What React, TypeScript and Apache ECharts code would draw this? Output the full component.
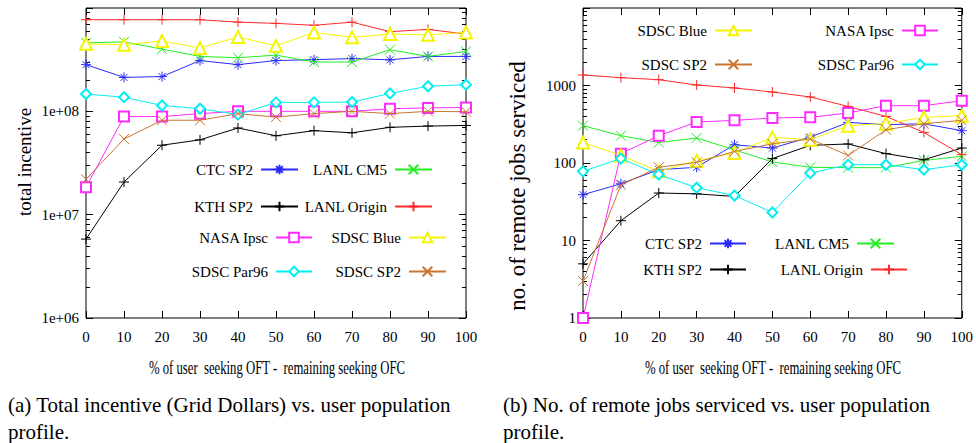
import React, { useEffect, useRef } from 'react';
import * as echarts from 'echarts';

// ---------- data ----------
const xValues = [0, 10, 20, 30, 40, 50, 60, 70, 80, 90, 100];

// (a) total incentive
const ctcSP2Incentive = [2.83e8, 2.13e8, 2.17e8, 3.1e8, 2.83e8, 3.1e8, 3.16e8, 3.24e8, 3.15e8, 3.4e8, 3.4e8];
const lanlCM5Incentive = [4.6e8, 4.7e8, 4.0e8, 3.4e8, 3.3e8, 3.5e8, 3.0e8, 3.0e8, 3.95e8, 3.4e8, 3.8e8];
const kthSP2Incentive = [5.8e6, 2.07e7, 4.7e7, 5.3e7, 6.9e7, 5.8e7, 6.5e7, 6.2e7, 7.0e7, 7.2e7, 7.3e7];
const lanlOriginIncentive = [7.7e8, 7.7e8, 7.7e8, 7.7e8, 7.3e8, 7.1e8, 6.8e8, 7.3e8, 5.9e8, 6.2e8, 5.6e8];
const nasaIpscIncentive = [1.84e7, 8.9e7, 8.9e7, 9.5e7, 1.0e8, 1.0e8, 1.0e8, 1.0e8, 1.06e8, 1.08e8, 1.09e8];
const sdscBlueIncentive = [4.5e8, 4.4e8, 4.8e8, 4.1e8, 5.25e8, 4.3e8, 5.8e8, 5.2e8, 5.6e8, 5.5e8, 5.8e8];
const sdscPar96Incentive = [1.47e8, 1.37e8, 1.14e8, 1.06e8, 0.93e8, 1.22e8, 1.22e8, 1.23e8, 1.49e8, 1.75e8, 1.81e8];
const sdscSP2Incentive = [2.2e7, 5.4e7, 8.2e7, 8.2e7, 9.5e7, 8.8e7, 9.5e7, 1.0e8, 0.95e8, 1.0e8, 0.99e8];

// (b) number of remote jobs serviced
const ctcSP2Jobs = [39, 54, 82, 88, 172, 156, 216, 334, 312, 321, 261];
const lanlCM5Jobs = [303, 225, 184, 210, 148, 103, 88, 87, 87, 108, 122];
const kthSP2Jobs = [5, 18, 41, 40, 37, 114, 169, 176, 132, 110, 156];
const lanlOriginJobs = [1366, 1262, 1188, 1015, 929, 824, 711, 537, 399, 248, 128];
const nasaIpscJobs = [1, 132, 225, 338, 355, 381, 388, 442, 549, 549, 637];
const sdscBlueJobs = [184, 125, 78, 107, 135, 214, 200, 303, 322, 388, 408];
const sdscPar96Jobs = [78, 114, 71, 48, 38, 23, 74, 95, 95, 82, 95];
const sdscSP2Jobs = [3, 52, 88, 102, 141, 177, 204, 125, 269, 321, 355];

const seriesNames = ['CTC SP2', 'LANL CM5', 'KTH SP2', 'LANL Origin', 'NASA Ipsc', 'SDSC Blue', 'SDSC Par96', 'SDSC SP2'];
const incentiveData = [ctcSP2Incentive, lanlCM5Incentive, kthSP2Incentive, lanlOriginIncentive, nasaIpscIncentive, sdscBlueIncentive, sdscPar96Incentive, sdscSP2Incentive];
const jobsData = [ctcSP2Jobs, lanlCM5Jobs, kthSP2Jobs, lanlOriginJobs, nasaIpscJobs, sdscBlueJobs, sdscPar96Jobs, sdscSP2Jobs];

const incentiveMajorTicks = [1e6, 1e7, 1e8, 1e9];
const incentiveTickLabels = [1e6, 1e7, 1e8];
const jobsMajorTicks = [1, 10, 100, 1000, 10000];
const jobsTickLabels = [1, 10, 100, 1000];

const xTitle = '% of user  seeking OFT -  remaining seeking OFC';
const captionA = ['(a) Total incentive (Grid Dollars) vs. user population', 'profile.'];
const captionB = ['(b) No. of remote jobs serviced vs. user population', 'profile.'];

// ---------- styles ----------
const FONT = "'Liberation Serif', 'Times New Roman', serif";
const PLUS = 'path://M0,5L10,5M5,0L5,10';
const CROSS = 'path://M0,0L10,10M10,0L0,10';
const STAR = 'path://M0,5L10,5M5,0L5,10M1.5,1.5L8.5,8.5M8.5,1.5L1.5,8.5';
const seriesStyle: Record<string, { color: string; symbol: string; size: number }> = {
  'CTC SP2': { color: '#2a2aff', symbol: STAR, size: 10 },
  'LANL CM5': { color: '#22ee22', symbol: CROSS, size: 10 },
  'KTH SP2': { color: '#000000', symbol: PLUS, size: 10 },
  'LANL Origin': { color: '#ff2a2a', symbol: PLUS, size: 10 },
  'NASA Ipsc': { color: '#ff2aff', symbol: 'emptyRect', size: 10 },
  'SDSC Blue': { color: '#f5f500', symbol: 'emptyTriangle', size: 12 },
  'SDSC Par96': { color: '#00f0f0', symbol: 'emptyDiamond', size: 10 },
  'SDSC SP2': { color: '#c87533', symbol: CROSS, size: 10 },
};

// legend placement: right edge of the line sample (as css right) and row centre
const legendLayout = [
  { name: 'CTC SP2', right: 677, y: 170, w: 37 },
  { name: 'LANL CM5', right: 543, y: 170, w: 37 },
  { name: 'KTH SP2', right: 677, y: 207, w: 37 },
  { name: 'LANL Origin', right: 543, y: 207, w: 37 },
  { name: 'NASA Ipsc', right: 663, y: 238, w: 36 },
  { name: 'SDSC Blue', right: 529, y: 238, w: 37 },
  { name: 'SDSC Par96', right: 663, y: 272, w: 36 },
  { name: 'SDSC SP2', right: 529, y: 272, w: 37 },
  { name: 'SDSC Blue', right: 223, y: 31, w: 37 },
  { name: 'NASA Ipsc', right: 37, y: 31, w: 36 },
  { name: 'SDSC SP2', right: 223, y: 65, w: 37 },
  { name: 'SDSC Par96', right: 37, y: 65, w: 36 },
  { name: 'CTC SP2', right: 229, y: 244, w: 36 },
  { name: 'LANL CM5', right: 81, y: 244, w: 37 },
  { name: 'KTH SP2', right: 229, y: 270, w: 36 },
  { name: 'LANL Origin', right: 68, y: 270, w: 36 },
];

function minorTicks(loExp: number, hiExp: number): number[] {
  const out: number[] = [];
  for (let e = loExp; e < hiExp; e++) {
    for (let k = 2; k <= 9; k++) out.push(k * Math.pow(10, e));
  }
  return out;
}

const tickLine = { color: '#000', width: 1 };

function xAxisDef(gridIndex: number, position: string, labels: boolean) {
  return {
    type: 'value', gridIndex, position, min: 0, max: 100, interval: 10,
    axisLine: { show: false }, splitLine: { show: false },
    axisTick: { show: true, inside: true, length: 7, lineStyle: tickLine },
    axisLabel: labels
      ? { show: true, margin: 11, color: '#000', fontFamily: FONT, fontSize: 15 }
      : { show: false },
  };
}

function yAxisDef(gridIndex: number, position: string, min: number, max: number, ticks: number[], len: number,
  labelVals?: number[], fmt?: (v: number) => string) {
  return {
    type: 'log', logBase: 10, gridIndex, position, min, max,
    axisLine: { show: false }, splitLine: { show: false },
    axisTick: { show: true, inside: true, length: len, customValues: ticks, lineStyle: tickLine },
    axisLabel: fmt
      ? { show: true, customValues: labelVals, formatter: fmt, margin: 7, color: '#000', fontFamily: FONT, fontSize: 15 }
      : { show: false },
  };
}

const fmtIncentive = (v: number) => {
  const e = Math.round(Math.log10(v));
  if (e > 8) return '';
  return '1e+' + String(e).padStart(2, '0');
};
const fmtJobs = (v: number) => (v > 1000 ? '' : String(Math.round(v)));

export default function App() {
  const ref = useRef<HTMLDivElement>(null);
  useEffect(() => {
    if (!ref.current) return;
    const chart = echarts.init(ref.current, undefined, { renderer: 'svg' });

    const series: any[] = [];
    seriesNames.forEach((name, i) => {
      const st = seriesStyle[name];
      const common = {
        type: 'line', name, symbol: st.symbol, symbolSize: st.size, showAllSymbol: true,
        lineStyle: { color: st.color, width: 1 },
        itemStyle: { color: st.color, borderColor: st.color, borderWidth: 1 },
        emphasis: { disabled: true }, z: 2 + i,
      };
      series.push({ ...common, xAxisIndex: 0, yAxisIndex: 0, data: xValues.map((x, k) => [x, incentiveData[i][k]]) });
      series.push({ ...common, xAxisIndex: 2, yAxisIndex: 4, data: xValues.map((x, k) => [x, jobsData[i][k]]) });
    });

    const legends = legendLayout.map((l) => ({
      data: [l.name], right: l.right, top: l.y - 8, itemWidth: l.w, itemHeight: 12, itemGap: 0,
      align: 'right', padding: 0, selectedMode: false, orient: 'horizontal',
      textStyle: { color: '#000', fontFamily: FONT, fontSize: 15, padding: [0, 3, 0, 0] },
    }));

    const textStyleBase = { fill: '#000', fontFamily: FONT };

    chart.setOption({
      animation: false,
      backgroundColor: '#fff',
      grid: [
        { left: 86, right: 510, top: 8, bottom: 125, show: true, borderColor: '#000', borderWidth: 1, backgroundColor: 'transparent' },
        { left: 583, right: 13, top: 8, bottom: 125, show: true, borderColor: '#000', borderWidth: 1, backgroundColor: 'transparent' },
      ],
      xAxis: [
        xAxisDef(0, 'bottom', true),
        xAxisDef(0, 'top', false),
        xAxisDef(1, 'bottom', true),
        xAxisDef(1, 'top', false),
      ],
      yAxis: [
        yAxisDef(0, 'left', 1e6, 1e9, incentiveMajorTicks, 7, incentiveTickLabels, fmtIncentive),
        yAxisDef(0, 'left', 1e6, 1e9, minorTicks(6, 9), 4),
        yAxisDef(0, 'right', 1e6, 1e9, incentiveMajorTicks, 7),
        yAxisDef(0, 'right', 1e6, 1e9, minorTicks(6, 9), 4),
        yAxisDef(1, 'left', 1, 10000, jobsMajorTicks, 7, jobsTickLabels, fmtJobs),
        yAxisDef(1, 'left', 1, 10000, minorTicks(0, 4), 4),
        yAxisDef(1, 'right', 1, 10000, jobsMajorTicks, 7),
        yAxisDef(1, 'right', 1, 10000, minorTicks(0, 4), 4),
      ],
      legend: legends,
      series,
      graphic: [
        { type: 'text', x: 24, y: 162, rotation: Math.PI / 2, style: { ...textStyleBase, text: 'total incentive', fontSize: 19, align: 'center', verticalAlign: 'middle' } },
        { type: 'text', x: 517, y: 186, rotation: Math.PI / 2, style: { ...textStyleBase, text: 'no. of remote jobs serviced', fontSize: 23, align: 'center', verticalAlign: 'middle' } },
        { type: 'text', x: 277, y: 368, scaleX: 0.67, style: { ...textStyleBase, text: xTitle, fontSize: 19, align: 'center', verticalAlign: 'middle' } },
        { type: 'text', x: 773, y: 368, scaleX: 0.67, style: { ...textStyleBase, text: xTitle, fontSize: 19, align: 'center', verticalAlign: 'middle' } },
        { type: 'text', x: 8, y: 405, style: { ...textStyleBase, text: captionA[0], fontSize: 21, align: 'left', verticalAlign: 'middle' } },
        { type: 'text', x: 8, y: 432, style: { ...textStyleBase, text: captionA[1], fontSize: 21, align: 'left', verticalAlign: 'middle' } },
        { type: 'text', x: 503, y: 405, style: { ...textStyleBase, text: captionB[0], fontSize: 21, align: 'left', verticalAlign: 'middle' } },
        { type: 'text', x: 503, y: 432, style: { ...textStyleBase, text: captionB[1], fontSize: 21, align: 'left', verticalAlign: 'middle' } },
      ],
    });

    return () => chart.dispose();
  }, []);

  return (
    <div
      ref={ref}
      style={{ position: 'fixed', left: 0, top: 0, width: 976, height: 443, background: '#fff' }}
    />
  );
}
